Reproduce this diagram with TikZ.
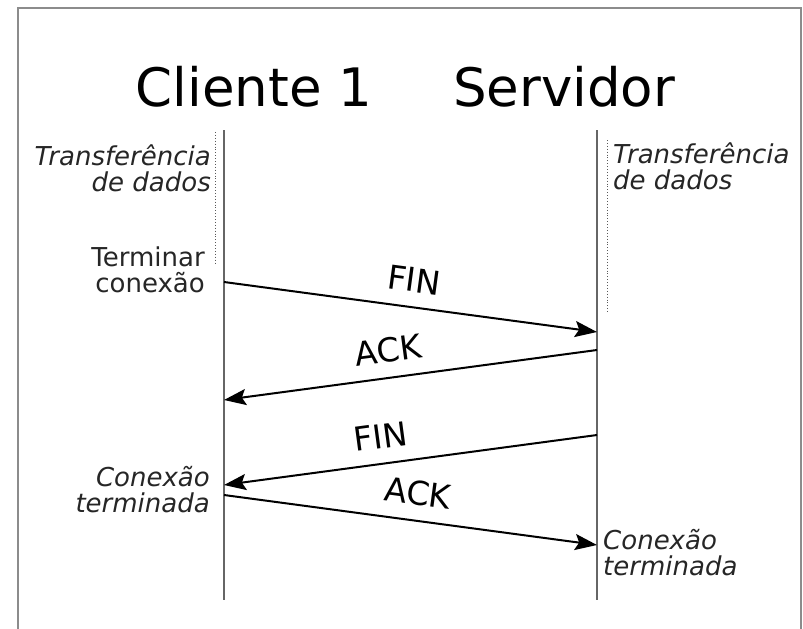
\documentclass[tikz,border=0pt]{standalone}
\usepackage{fontspec}
\setmainfont{DejaVu Sans}
\usetikzlibrary{arrows.meta}

\tikzset{
  lifeline/.style={black!60, line width=1.4pt},
  busyline/.style={black!65, line width=0.9pt, dotted},
  msg/.style={black, line width=2pt, -{Stealth[length=22pt,width=16pt,inset=4pt]}},
  msglabel/.style={sloped, above=11pt, font=\fontsize{33}{36}\selectfont},
  peer/.style={font=\fontsize{53}{60}\selectfont},
  note/.style={text=black!85, font=\fontsize{26}{26}\selectfont, align=left, inner sep=0pt},
  rnote/.style={note, align=right}
}

\begin{document}
\begin{tikzpicture}[x=1pt,y=-1pt]
\useasboundingbox (0,0) rectangle (803,629);
% frame
\draw[black!45, line width=2pt] (18,640) -- (18,8) -- (801,8) -- (801,640);

% peers
\node[peer] (client) at (254,87) {Cliente 1};
\node[peer] (server) at (564,87) {Servidor};

% lifelines
\coordinate (c-top) at (224,130);
\coordinate (c-bot) at (224,600);
\coordinate (s-top) at (597,130);
\coordinate (s-bot) at (597,600);
\draw[lifeline] (c-top) -- (c-bot);
\draw[lifeline] (s-top) -- (s-bot);

% data transfer periods
\coordinate (c-busy1) at (215,132);
\coordinate (c-busy2) at (215,265);
\coordinate (s-busy1) at (607,140);
\coordinate (s-busy2) at (607,312);
\draw[busyline] (c-busy1) -- (c-busy2);
\draw[busyline] (s-busy1) -- (s-busy2);

% message ends
\coordinate (fin1-a) at (224,282);
\coordinate (fin1-b) at (597,332);
\coordinate (ack1-a) at (597,350);
\coordinate (ack1-b) at (224,400);
\coordinate (fin2-a) at (597,435);
\coordinate (fin2-b) at (224,485);
\coordinate (ack2-a) at (224,495);
\coordinate (ack2-b) at (597,545);

\draw[msg] (fin1-a) -- node[msglabel, pos=0.5] (fin1) {FIN} (fin1-b);
\draw[msg] (ack1-a) -- node[msglabel, pos=0.55] (ack1) {ACK} (ack1-b);
\draw[msg] (fin2-a) -- node[msglabel, pos=0.57] (fin2) {FIN} (fin2-b);
\draw[msg] (ack2-a) -- node[msglabel, pos=0.51] (ack2) {ACK} (ack2-b);

% notes
\node[rnote, anchor=north east] (c-transf) at (211,145) {\itshape Transferência\\\itshape de dados};
\node[note, anchor=north west] (s-transf) at (613,143) {\itshape Transferência\\\itshape de dados};
\node[rnote, anchor=north east] (c-term) at (205,247) {Terminar\\conexão};
\node[rnote, anchor=north east] (c-done) at (210,466) {\itshape Conexão\\\itshape terminada};
\node[note, anchor=north west] (s-done) at (603,529) {\itshape Conexão\\\itshape terminada};
\end{tikzpicture}
\end{document}
